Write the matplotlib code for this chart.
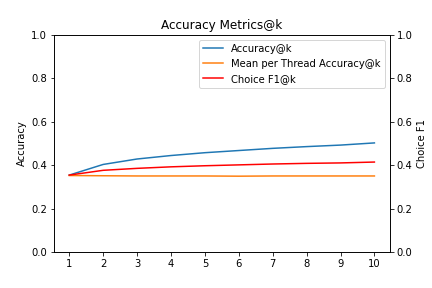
import matplotlib
matplotlib.use("Agg")
import matplotlib.pyplot as plt

k = [1, 2, 3, 4, 5, 6, 7, 8, 9, 10]
accuracy = [0.355, 0.404, 0.429, 0.445, 0.458, 0.468, 0.478, 0.486, 0.493, 0.503]
thread_accuracy = [0.353, 0.352, 0.351, 0.351, 0.351, 0.350, 0.351, 0.351, 0.351, 0.351]
choice_f1 = [0.355, 0.377, 0.386, 0.393, 0.398, 0.402, 0.406, 0.409, 0.411, 0.415]

fig, ax = plt.subplots(figsize=(6, 4), dpi=72)
fig.subplots_adjust(left=0.125, right=0.902, bottom=0.124, top=0.879)
l1, = ax.plot(k, accuracy, label='Accuracy@k')
l2, = ax.plot(k, thread_accuracy, label='Mean per Thread Accuracy@k')
ax.set_ylim(0, 1)
ax.set_ylabel('Accuracy')
ax.set_xticks(k)

ax2 = ax.twinx()
l3, = ax2.plot(k, choice_f1, color='red', label='Choice F1@k')
ax2.set_ylim(0, 1)
ax2.set_ylabel('Choice F1')

ax.legend(handles=[l1, l2, l3], loc='upper right')
ax.set_title('Accuracy Metrics@k')
plt.savefig('out.png')
